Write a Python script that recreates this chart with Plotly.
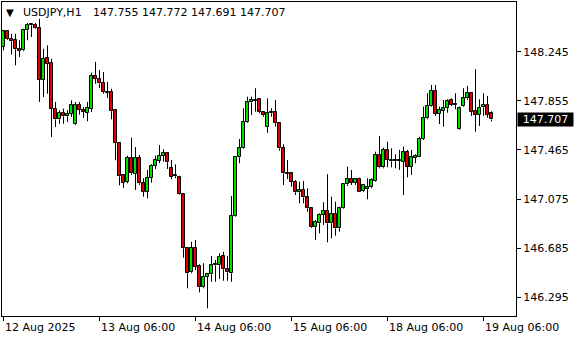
import plotly.graph_objects as go

symbol = "USDJPY,H1"
bar_index = list(range(123))

opens = [148.283, 148.407, 148.349, 148.336, 148.267, 148.256, 148.415, 148.455, 148.455, 148.434,
         148.023, 148.195, 148.156, 147.793, 147.708, 147.758, 147.732, 147.753, 147.673, 147.820,
         147.785, 147.758, 147.793, 148.052, 148.029, 147.997, 147.925, 147.925, 147.780, 147.520,
         147.264, 147.213, 147.403, 147.274, 147.399, 147.200, 147.133, 147.240, 147.337, 147.380,
         147.419, 147.438, 147.319, 147.258, 147.248, 147.113, 146.684, 146.493, 146.689, 146.543,
         146.374, 146.458, 146.477, 146.549, 146.549, 146.620, 146.517, 146.485, 146.943, 147.407,
         147.478, 147.685, 147.843, 147.854, 147.867, 147.769, 147.650, 147.764, 147.764, 147.677,
         147.478, 147.279, 147.279, 147.213, 147.129, 147.147, 147.089, 147.001, 146.851, 146.882,
         146.948, 146.980, 146.882, 146.954, 146.843, 147.001, 147.192, 147.232, 147.205, 147.232,
         147.139, 147.152, 147.168, 147.221, 147.425, 147.327, 147.465, 147.375, 147.377, 147.377,
         147.372, 147.446, 147.332, 147.403, 147.411, 147.552, 147.716, 147.814, 147.936, 147.751,
         147.777, 147.796, 147.862, 147.822, 147.629, 147.814, 147.875, 147.915, 147.774, 147.743,
         147.804, 147.822, 147.755]
highs = [148.415, 148.414, 148.388, 148.388, 148.336, 148.428, 148.473, 148.473, 148.473, 148.507,
         148.269, 148.296, 148.190, 147.846, 147.780, 147.793, 147.780, 147.859, 147.846, 147.846,
         147.806, 147.846, 148.079, 148.164, 148.100, 148.084, 148.005, 147.951, 147.782, 147.528,
         147.268, 147.419, 147.562, 147.488, 147.425, 147.240, 147.306, 147.351, 147.419, 147.504,
         147.470, 147.443, 147.385, 147.351, 147.260, 147.121, 146.689, 146.736, 146.750, 146.557,
         146.565, 146.485, 146.623, 146.591, 146.644, 146.657, 146.623, 147.099, 147.417, 147.552,
         147.796, 147.888, 147.888, 147.955, 147.875, 147.774, 147.875, 147.796, 147.862, 147.681,
         147.510, 147.385, 147.287, 147.226, 147.213, 147.218, 147.160, 147.006, 146.909, 146.962,
         147.049, 147.272, 147.094, 147.054, 147.014, 147.194, 147.332, 147.306, 147.240, 147.245,
         147.192, 147.240, 147.240, 147.451, 147.576, 147.483, 147.530, 147.478, 147.430, 147.465,
         147.491, 147.465, 147.465, 147.430, 147.570, 147.809, 147.915, 147.981, 147.981, 147.809,
         147.862, 147.867, 147.875, 147.915, 147.809, 147.955, 147.973, 147.920, 148.106, 147.867,
         147.915, 147.894, 147.772]
lows = [148.256, 148.338, 148.222, 148.137, 148.203, 148.249, 148.336, 148.362, 148.428, 147.846,
        147.886, 147.912, 147.568, 147.647, 147.673, 147.673, 147.687, 147.727, 147.665, 147.745,
        147.719, 147.693, 147.766, 147.991, 147.957, 147.912, 147.878, 147.708, 147.383, 147.184,
        147.163, 147.200, 147.266, 147.147, 147.187, 147.094, 147.081, 147.205, 147.314, 147.359,
        147.372, 147.314, 147.232, 147.240, 147.107, 146.609, 146.366, 146.485, 146.511, 146.334,
        146.366, 146.207, 146.418, 146.418, 146.440, 146.426, 146.426, 146.418, 146.935, 147.359,
        147.472, 147.679, 147.743, 147.769, 147.756, 147.729, 147.602, 147.729, 147.650, 147.459,
        147.187, 147.234, 147.173, 147.107, 147.041, 147.041, 146.974, 146.845, 146.750, 146.803,
        146.869, 146.731, 146.763, 146.784, 146.816, 146.996, 147.179, 147.187, 147.187, 147.131,
        147.133, 147.073, 147.160, 147.213, 147.319, 147.319, 147.327, 147.327, 147.319, 147.306,
        147.107, 147.248, 147.266, 147.359, 147.407, 147.544, 147.708, 147.809, 147.735, 147.671,
        147.650, 147.761, 147.814, 147.788, 147.623, 147.809, 147.862, 147.735, 147.610, 147.655,
        147.735, 147.721, 147.691]
closes = [148.407, 148.344, 148.328, 148.264, 148.253, 148.415, 148.460, 148.463, 148.434, 148.023,
          148.190, 148.150, 147.793, 147.708, 147.758, 147.732, 147.748, 147.824, 147.820, 147.785,
          147.766, 147.798, 148.052, 148.031, 147.994, 147.925, 147.917, 147.772, 147.520, 147.256,
          147.205, 147.403, 147.279, 147.399, 147.200, 147.133, 147.240, 147.337, 147.385, 147.419,
          147.438, 147.367, 147.253, 147.256, 147.113, 146.684, 146.485, 146.689, 146.538, 146.374,
          146.458, 146.477, 146.549, 146.551, 146.617, 146.517, 146.493, 146.943, 147.411, 147.478,
          147.685, 147.843, 147.862, 147.864, 147.769, 147.743, 147.756, 147.756, 147.677, 147.478,
          147.279, 147.276, 147.213, 147.129, 147.147, 147.089, 147.001, 146.851, 146.895, 146.948,
          146.980, 146.882, 146.954, 146.843, 147.001, 147.192, 147.232, 147.205, 147.232, 147.133,
          147.187, 147.168, 147.226, 147.425, 147.327, 147.465, 147.385, 147.380, 147.375, 147.380,
          147.446, 147.332, 147.407, 147.417, 147.552, 147.716, 147.814, 147.936, 147.751, 147.782,
          147.796, 147.854, 147.822, 147.820, 147.796, 147.875, 147.915, 147.769, 147.743, 147.801,
          147.822, 147.743, 147.707]

price_ticks = [148.245, 147.855, 147.465, 147.075, 146.685, 146.295]
price_tick_labels = ["148.245", "147.855", "147.465", "147.075", "146.685", "146.295"]
time_tick_index = [0, 24, 48, 72, 96, 120]
time_tick_labels = ["12 Aug 2025", "13 Aug 06:00", "14 Aug 06:00", "15 Aug 06:00",
                    "18 Aug 06:00", "19 Aug 06:00"]

FONT = "DejaVu Sans"
UP_COLOR = "#00e000"
DOWN_COLOR = "#e00000"
Y_RANGE = [146.146, 148.640]
PLOT_H = 314
PX = (Y_RANGE[1] - Y_RANGE[0]) / PLOT_H  # one screen pixel in price units

lo_b = [min(o, c) for o, c in zip(opens, closes)]
hi_b = [max(o, c) for o, c in zip(opens, closes)]
body_len = [max(h - l, PX) for l, h in zip(lo_b, hi_b)]
body_col = [UP_COLOR if c >= o else DOWN_COLOR for o, c in zip(opens, closes)]

# wicks drawn only outside the body so they never cover its fill
wx, wy = [], []
for i, h, l, bl, bh in zip(bar_index, highs, lows, lo_b, hi_b):
    wx += [i, i, None, i, i, None]
    wy += [l, bl, None, bh, h, None]

fig = go.Figure()
fig.add_trace(go.Bar(x=bar_index, y=body_len, base=lo_b, width=0.75,
                     marker=dict(color=body_col, line=dict(color="#000000", width=1)),
                     hoverinfo="skip", showlegend=False))
fig.add_trace(go.Scatter(x=wx, y=wy, mode="lines", line=dict(color="#000000", width=1),
                         hoverinfo="skip", showlegend=False))

annotations = []
for xi, lab in zip(time_tick_index, time_tick_labels):
    annotations.append(dict(
        x=xi, y=0, xref="x", yref="paper", text=lab, showarrow=False,
        xanchor="left", yanchor="middle", xshift=-1, yshift=-11,
        font=dict(family=FONT, size=11, color="#000000")))

last = len(closes) - 1
annotations.append(dict(
    x=0, y=1, xref="paper", yref="paper", text="\u25BC", showarrow=False,
    xanchor="left", yanchor="middle", xshift=2, yshift=-10,
    font=dict(family=FONT, size=10, color="#000000")))
annotations.append(dict(
    x=0, y=1, xref="paper", yref="paper", text=symbol, showarrow=False,
    xanchor="left", yanchor="middle", xshift=19, yshift=-10,
    font=dict(family=FONT, size=11, color="#000000")))
annotations.append(dict(
    x=0, y=1, xref="paper", yref="paper",
    text="{:.3f} {:.3f} {:.3f} {:.3f}".format(opens[last], highs[last], lows[last], closes[last]),
    showarrow=False, xanchor="left", yanchor="middle", xshift=89, yshift=-10,
    font=dict(family=FONT, size=11, color="#000000")))
annotations.append(dict(
    x=1, y=closes[last], xref="paper", yref="y", text="{:.3f}".format(closes[last]),
    showarrow=False, xanchor="left", yanchor="middle", xshift=1,
    width=55, height=13, bgcolor="#000000", borderpad=0, align="center",
    font=dict(family=FONT, size=11, color="#ffffff")))

fig.update_layout(
    width=580, height=340,
    margin=dict(l=2, r=64, t=2, b=24),
    paper_bgcolor="#ffffff", plot_bgcolor="#ffffff",
    annotations=annotations, bargap=0,
    xaxis=dict(range=[-0.375, 128.125], showgrid=False, zeroline=False,
               showline=True, linecolor="#000000", linewidth=1, mirror=True,
               ticks="outside", ticklen=4, tickcolor="#000000",
               tickvals=time_tick_index, showticklabels=False, fixedrange=True),
    yaxis=dict(range=Y_RANGE, side="right", showgrid=False, zeroline=False,
               showline=True, linecolor="#000000", linewidth=1, mirror=True,
               ticks="outside", ticklen=4, tickcolor="#000000",
               tickvals=price_ticks, ticktext=price_tick_labels,
               tickfont=dict(family=FONT, size=11, color="#000000"), fixedrange=True),
)

fig.write_html("out.html")
